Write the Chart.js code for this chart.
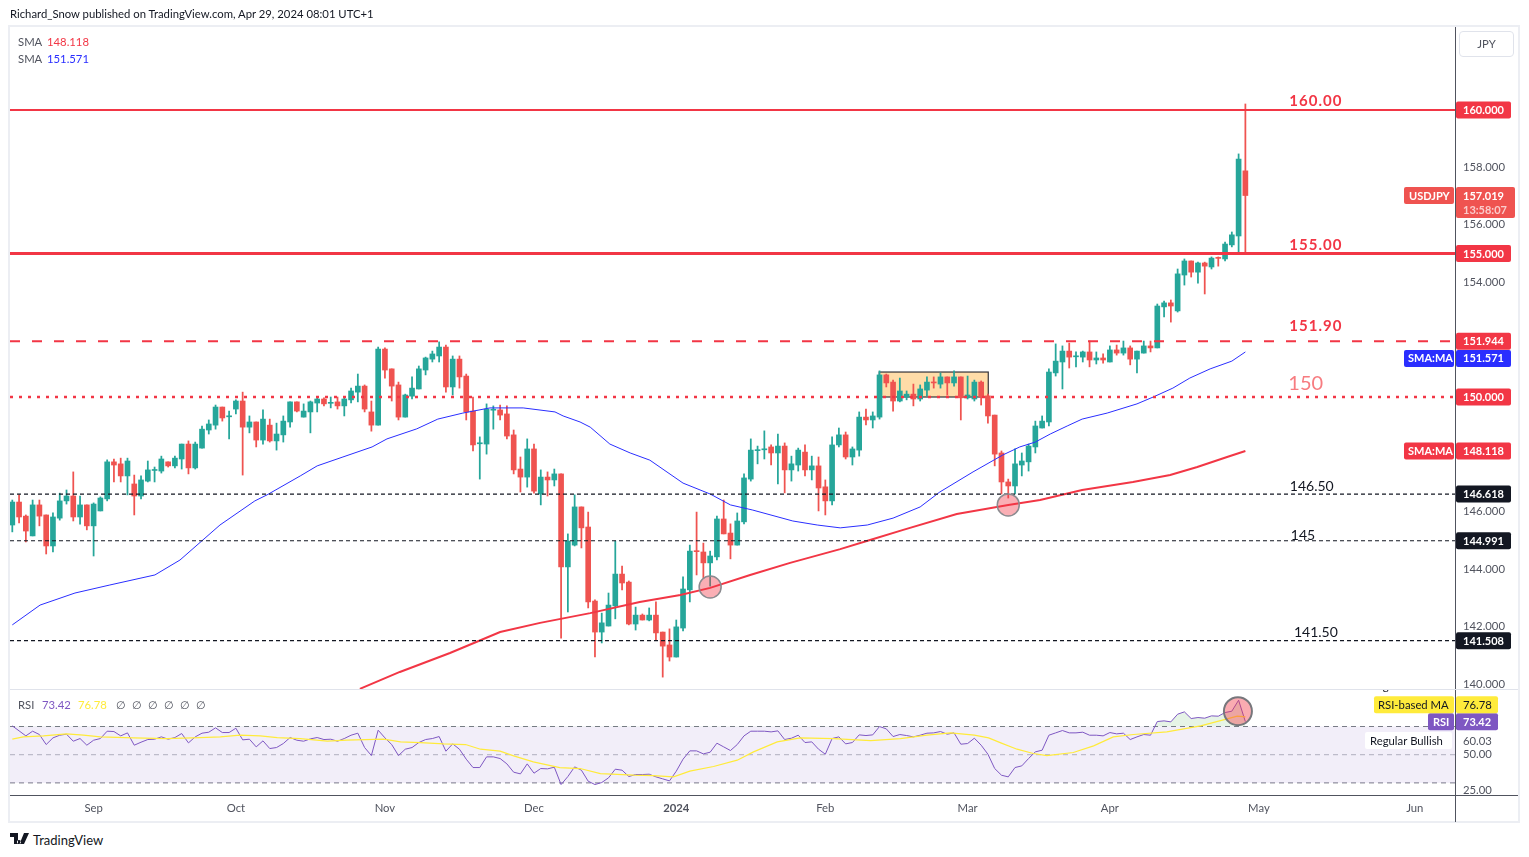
<!DOCTYPE html>
<html>
<head>
<meta charset="utf-8">
<title>USDJPY</title>
<script src="https://cdn.jsdelivr.net/npm/chart.js@4"></script>
<style>
    html, body { margin: 0; padding: 0; background: #fff; width: 1529px; height: 857px; overflow: hidden; }
    body { font-family: Lato, sans-serif; font-size: 11.3px; color: #131722; position: relative; }
    canvas { position: absolute; left: 0; }
    #priceCanvas { top: 0; }
    #rsiCanvas { top: 670px; }
    .abs { position: absolute; white-space: nowrap; }
    #frame { left: 8px; top: 25px; width: 1512px; height: 798px; border: 2px solid #eceef3; box-sizing: border-box; }
    #axisLine { left: 1455px; top: 27px; width: 1px; height: 795px; background: #50535e; }
    #paneLine { left: 10px; top: 689px; width: 1508px; height: 1px; background: #e0e3eb; }
    #timeLine { left: 10px; top: 795px; width: 1508px; height: 1px; background: #50535e; }
    #jpyBox { left: 1459px; top: 31px; width: 55px; height: 26px; border: 1px solid #e0e3eb; border-radius: 4px; box-sizing: border-box; text-align: center; line-height: 24px; color: #50535e; }
    .gray { color: #50535e; }
    #rsiLegend span { display: inline-block; }
    #rsiLegend .nil { width: 16px; }
</style>
</head>
<body>
<div class="abs" id="frame"></div>
<canvas id="priceCanvas" width="1529" height="700"></canvas>
<canvas id="rsiCanvas" width="1529" height="152"></canvas>
<div class="abs" id="axisLine"></div>
<div class="abs" id="paneLine"></div>
<div class="abs" id="timeLine"></div>
<div class="abs" style="left:10px;top:7px;">Richard_Snow published on TradingView.com, Apr 29, 2024 08:01 UTC+1</div>
<div class="abs" style="left:18px;top:35px;"><span class="gray" style="display:inline-block;width:29px;">SMA</span><span style="color:#f23645">148.118</span></div>
<div class="abs" style="left:18px;top:52px;"><span class="gray" style="display:inline-block;width:29px;">SMA</span><span style="color:#2a2eff">151.571</span></div>
<div class="abs" id="rsiLegend" style="left:18px;top:698px;"><span class="gray" style="width:24px">RSI</span><span style="color:#7e57c2;width:36px">73.42</span><span style="color:#ffeb3b;width:38px">76.78</span><span class="gray nil">∅</span><span class="gray nil">∅</span><span class="gray nil">∅</span><span class="gray nil">∅</span><span class="gray nil">∅</span><span class="gray nil">∅</span></div>
<div class="abs" id="jpyBox">JPY</div>
<svg class="abs" style="left:10px;top:833px;" width="20" height="12" viewBox="0 0 20 12">
    <path d="M0 0h8v11H4V4H0z M9 7a2 2 0 1 0 0.01 0z M14 0h5l-5 11H9.5z" fill="#131722"/>
</svg>
<div class="abs" style="left:33px;top:832px;font-size:13px;">TradingView</div>

<script>
// Candles, one per trading day from mid August 2023 to 29 Apr 2024
const opens = [145.54,146.34,145.85,145.16,146.24,145.89,144.81,145.78,146.38,146.55,145.82,146.24,145.51,146.03,146.45,147.74,147.67,147.25,146.97,146.55,147.07,147.44,147.42,147.74,147.60,147.84,148.36,147.53,148.22,148.85,149.02,149.65,149.31,149.58,149.86,148.95,149.13,148.50,149.02,148.47,148.68,149.13,149.83,149.30,149.48,149.79,149.93,149.78,149.83,149.69,149.90,150.17,150.38,149.48,149.02,151.67,150.98,150.42,149.30,150.03,150.28,150.94,151.32,151.43,151.74,150.35,151.32,150.73,149.51,148.37,148.36,149.54,149.55,149.41,148.68,147.49,147.21,148.19,146.62,147.21,147.11,147.32,144.08,144.84,146.17,145.47,142.89,141.81,142.02,142.72,143.83,143.55,142.09,142.40,142.23,142.40,141.81,141.36,140.94,141.95,143.28,144.64,144.60,144.22,144.43,145.75,145.26,144.84,145.65,147.14,148.13,148.16,148.26,148.05,148.29,147.46,147.63,148.08,147.46,147.60,146.87,146.38,148.33,148.68,147.91,148.15,149.30,149.20,149.30,150.77,150.52,149.86,150.00,150.10,149.93,150.24,150.52,150.45,150.70,150.49,150.70,149.97,149.93,150.52,150.04,149.37,148.05,147.04,146.90,147.63,147.74,148.26,148.92,149.13,150.84,151.22,151.60,151.40,151.39,151.57,151.29,151.36,151.22,151.64,151.53,151.71,151.32,151.53,151.78,151.71,153.14,153.28,153.00,154.25,154.74,154.35,154.67,154.53,154.86,154.81,155.30,155.61,157.88];
const highs = [146.41,146.59,145.89,146.41,146.41,145.89,145.96,146.65,146.76,147.39,146.55,146.24,146.31,146.52,147.81,147.84,147.87,147.87,147.28,147.25,147.77,147.56,147.94,147.74,147.94,148.36,148.47,148.43,148.99,149.20,149.72,149.65,149.51,149.90,150.17,149.34,149.13,149.55,149.23,149.09,149.34,149.83,149.83,149.76,149.86,149.97,149.97,150.00,150.00,150.00,150.31,150.80,150.42,149.86,151.74,151.71,150.98,150.52,150.10,150.70,151.08,151.39,151.60,151.92,151.81,151.43,151.43,150.80,150.00,148.61,149.76,149.69,149.72,149.69,148.85,147.91,148.54,148.36,147.46,147.39,147.49,147.32,145.23,146.59,146.17,145.99,142.93,142.47,143.17,144.98,144.11,143.59,142.68,142.44,142.65,142.86,141.81,141.92,142.23,143.73,144.84,145.99,144.91,144.63,145.85,146.41,145.58,145.96,147.32,148.54,148.29,148.82,148.33,148.71,148.40,147.94,148.22,148.33,147.94,147.91,147.11,148.61,148.92,148.78,148.26,149.48,149.58,149.48,150.91,150.80,150.59,150.66,150.21,150.45,150.42,150.70,150.70,150.84,150.70,150.91,150.70,150.73,150.59,150.56,150.10,149.37,148.12,147.14,148.19,148.05,148.36,149.16,149.34,150.98,151.85,151.78,151.88,151.57,151.60,151.95,151.57,151.50,151.78,151.81,151.95,151.78,151.60,151.95,151.95,153.24,153.34,153.38,154.46,154.81,154.74,154.70,154.70,154.88,154.88,155.40,155.75,158.47,160.21];
const lows = [145.30,145.61,144.95,145.16,145.51,144.53,144.60,145.71,146.27,145.68,145.57,145.37,144.46,146.03,146.38,147.04,147.04,146.59,145.89,146.45,147.04,147.04,147.35,147.56,147.53,147.49,147.32,147.49,148.22,148.71,148.88,149.16,148.54,149.41,147.28,148.75,148.26,148.36,148.43,148.15,148.43,148.95,149.48,149.30,148.75,149.48,149.69,149.62,149.58,149.34,149.79,149.83,149.48,148.81,149.02,150.66,149.86,149.20,149.30,149.93,150.28,150.77,151.22,151.22,150.17,150.07,150.31,149.20,148.12,147.14,148.01,148.88,149.20,148.54,147.32,146.69,146.86,146.65,146.24,146.55,146.90,141.60,142.51,144.81,144.74,142.65,140.94,141.43,142.02,142.27,143.28,142.06,141.88,142.23,142.20,141.53,140.24,140.80,140.94,141.85,142.86,143.80,143.69,143.41,144.32,145.23,144.36,144.84,145.58,147.07,147.67,147.84,147.63,146.97,146.66,147.07,147.42,147.25,147.11,146.03,145.89,146.24,148.26,147.84,147.63,147.94,149.03,148.92,149.23,150.35,149.51,149.83,149.90,149.69,149.86,150.04,150.31,150.31,150.07,150.38,149.20,149.93,149.86,149.72,149.09,147.60,146.62,146.48,146.62,147.25,147.42,148.05,148.92,148.99,150.73,150.28,151.01,151.05,151.22,151.05,151.15,151.18,151.22,151.46,151.46,151.12,150.84,151.53,151.57,151.71,152.79,152.61,152.96,153.90,154.18,153.97,153.59,154.46,154.56,154.74,155.23,154.98,155.04];
const closes = [146.34,145.82,145.33,146.24,145.85,144.81,145.82,146.38,146.55,145.82,146.24,145.51,146.27,146.48,147.74,147.63,147.25,147.77,146.55,147.11,147.46,147.47,147.84,147.60,147.87,148.36,147.53,148.36,148.88,149.06,149.65,149.27,149.34,149.86,148.95,149.13,148.50,149.23,148.47,148.71,149.16,149.83,149.51,149.51,149.83,149.93,149.76,149.80,149.69,149.93,150.21,150.38,149.58,149.02,151.67,150.94,150.38,149.30,150.07,150.31,150.98,151.36,151.50,151.74,150.35,151.32,150.70,149.48,148.33,148.39,149.58,149.56,149.37,148.64,147.46,147.21,148.19,146.72,147.21,147.11,147.32,144.08,144.98,146.17,145.44,142.86,141.81,142.13,142.75,143.83,143.52,142.09,142.40,142.23,142.40,141.78,141.32,140.94,141.99,143.31,144.63,144.61,144.22,144.46,145.75,145.23,144.84,145.68,147.18,148.15,148.15,148.19,148.05,148.29,147.46,147.67,148.15,147.46,147.60,146.83,146.38,148.33,148.68,147.91,148.19,149.30,149.20,149.34,150.77,150.49,149.86,150.21,150.10,149.93,150.28,150.52,150.49,150.70,150.49,150.70,149.97,150.07,150.52,150.00,149.34,148.01,147.04,146.90,147.67,147.77,148.29,148.99,149.16,150.87,151.25,151.60,151.39,151.42,151.57,151.29,151.36,151.29,151.64,151.53,151.71,151.32,151.60,151.78,151.71,153.17,153.28,153.17,154.29,154.74,154.35,154.67,154.56,154.84,154.83,155.33,155.65,158.29,157.02];

// SMA lines at the bends (bar index, price)
const sma50Bars = [0,4.1,9.25,14.4,21.05,24.75,30.65,35.8,37.6,42.5,45,48.8,53.1,55.3,59.7,62.8,66.5,70.5,75.4,80.1,81.3,83.8,85.3,88.2,91.2,94.1,99,103,106,109.3,115.2,118.8,122.2,126.2,130,134,136.9,141.8,146.2,148.7,151,153.2,155.7,157.9,161.6,166,168.4,171.3,173.8,176.8,180,182];
const sma50Vals = [142.06,142.75,143.17,143.45,143.80,144.32,145.54,146.38,146.59,147.25,147.60,147.91,148.26,148.54,148.89,149.23,149.44,149.62,149.62,149.48,149.34,149.13,148.95,148.36,148.05,147.80,147.00,146.62,146.24,146.06,145.68,145.54,145.44,145.54,145.78,146.17,146.69,147.39,147.98,148.26,148.43,148.71,148.99,149.23,149.44,149.76,150.00,150.31,150.66,150.98,151.25,151.57];
const sma200Bars = [51.3,57.2,64.6,72,77.9,85.3,92.6,98.6,103,108.9,114.8,122.2,126.6,131.5,139.4,147,151.7,157.9,165.4,170.9,174.9,179.3,182];
const sma200Vals = [139.83,140.42,141.08,141.81,142.13,142.47,142.86,143.10,143.35,143.80,144.22,144.70,145.02,145.37,145.92,146.24,146.41,146.76,147.04,147.28,147.56,147.91,148.12];

// RSI, one value per bar
const rsiVals = [70.45,66.90,63.36,66.67,64.30,57.21,61.94,63.83,64.54,59.57,61.46,56.74,60.28,61.46,66.67,66.43,63.36,65.48,56.74,58.86,60.76,60.99,62.65,60.99,62.17,65.01,58.39,62.65,65.25,65.96,69.03,65.72,65.72,68.79,60.52,60.99,55.55,59.81,54.37,55.08,57.92,62.17,60.28,59.57,61.23,62.17,60.76,60.99,59.57,61.46,63.83,65.25,55.08,49.41,67.38,61.94,57.21,49.41,53.90,55.08,58.63,60.76,61.46,62.88,52.48,57.68,53.90,46.81,40.90,40.90,48.46,48.46,47.28,43.50,37.59,36.41,43.50,36.88,40.19,39.95,41.13,28.84,34.51,41.37,39.01,31.20,28.84,30.26,33.57,39.72,39.01,34.51,35.93,35.93,36.17,34.28,32.86,31.44,38.30,46.81,52.72,52.72,50.59,51.77,58.16,55.55,52.95,57.21,63.36,66.67,66.67,66.67,66.19,66.90,60.76,61.70,63.83,58.63,59.10,53.90,50.35,61.46,62.65,57.68,58.63,64.07,63.59,64.07,69.98,68.32,62.88,64.30,63.59,62.65,63.83,65.25,65.48,66.43,64.54,65.48,57.45,57.92,61.70,56.74,50.35,40.19,35.46,34.28,40.90,42.08,47.28,52.01,53.19,63.83,65.49,67.14,65.49,65.49,65.96,63.83,63.83,63.36,65.72,64.78,65.25,60.76,62.65,64.31,63.83,73.53,74.00,73.29,78.73,80.38,75.65,76.36,75.89,77.54,77.31,79.91,80.85,88.66,73.42];
const rsiMaBars = [0,1.6,4.6,8,10.5,13,17.9,22.8,27.7,30.7,33.6,36.6,39.1,42.5,46.5,49.4,54.8,57.3,60.2,63.7,66.9,69.1,72,74,76.9,80.8,83.8,86.8,91.7,94.6,97.6,100,103.5,107,109.4,112.9,116.3,121.2,126.7,131.1,135,138.5,142,144.1,145.9,148.3,150.7,152.7,156.6,159.6,162.5,165.5,170.4,175.4,179.3,180.8,182];
const rsiMaVals = [60.99,62.65,63.36,64.77,63.83,62.65,61.94,61.46,62.17,62.65,63.83,63.36,62.17,61.46,59.57,60.28,60.99,59.10,58.63,57.68,57.21,53.90,52.48,49.17,44.92,40.90,40.19,36.64,35.46,35.22,34.28,38.30,41.61,46.10,52.01,59.10,61.94,61.46,60.05,61.46,63.83,65.48,63.83,61.94,58.39,53.90,50.83,49.41,51.54,56.27,62.65,64.31,66.20,70.45,75.42,77.31,76.78];

// Axes
const monthBars = [12,33,55,77,98,120,141,162,184,207];
const monthLabels = ['Sep','Oct','Nov','Dec','2024','Feb','Mar','Apr','May','Jun'];
const priceTicks = [140,142,144,146,148,152,154,156,158];
const rsiTicks = [25,50];

// Horizontal levels and their notes
const solidLevels = [160,155];
const dashedLevel = 151.944;
const dottedLevel = 150;
const blackLevels = [146.618,144.991,141.508];
const noteTexts = ['160.00','155.00','151.90','150','146.50','145','141.50'];
const notePrices = [160,155,151.944,150,146.618,144.991,141.508];

// Price tags on the right axis
const tagPrices = [160,155,151.944,151.571,150,148.118,146.618,144.991,141.508];
const tagTexts = ['160.000','155.000','151.944','151.571','150.000','148.118','146.618','144.991','141.508'];
const lastPrice = 157.019;
const rsiLast = 73.42;
const rsiMaLast = 76.78;

// Consolidation box and touch markers
const boxBars = [127.96,144.05];
const boxPrices = [150.87,150.0];
const touchBars = [103,147];
const touchPrices = [143.38,146.24];
const rsiTouchBar = [180.9];
const rsiTouchVal = [80.85];

const FONT = 'Lato, sans-serif';
const X_MIN = -0.34, X_MAX = 212.94;
const UP = '#26a69a', DOWN = '#ef5350', RED = '#f23645', BLUE = '#2a2eff';

Chart.defaults.font.family = FONT;
Chart.defaults.font.size = 11.3;
Chart.defaults.animation = false;

const candleColors = opens.map((o, i) => closes[i] >= o ? UP : DOWN);
const pairs = (xs, ys) => xs.map((x, i) => ({ x: x, y: ys[i] }));
const levelLine = (y, width, color, dash) => ({
    type: 'line',
    data: [{ x: X_MIN, y: y }, { x: X_MAX, y: y }],
    borderColor: color,
    borderWidth: width,
    borderDash: dash || [],
    pointRadius: 0,
    order: 2
});
// chart.js keeps room for the outer tick labels, the panes here must fill their box
const noTickRoom = axis => {
    axis.paddingLeft = 0;
    axis.paddingRight = 0;
    axis.paddingTop = 0;
    axis.paddingBottom = 0;
};

const xScale = {
    type: 'linear',
    min: X_MIN,
    max: X_MAX,
    offset: false,
    grid: { display: false, drawTicks: false },
    border: { display: false }
};

function tag(ctx, x, y, w, h, bg, text, color, textX) {
    ctx.fillStyle = bg;
    ctx.beginPath();
    ctx.roundRect(x, y - h / 2, w, h, 2);
    ctx.fill();
    ctx.fillStyle = color;
    ctx.textAlign = 'left';
    ctx.textBaseline = 'middle';
    ctx.fillText(text, textX, y + 0.5);
}

// Round touch markers. As point datasets their radius would widen the chart's min padding
function touchMarkers(chart, bars, vals, radius, fill, stroke, width) {
    const { ctx, scales: { x, y } } = chart;
    ctx.save();
    ctx.fillStyle = fill;
    ctx.strokeStyle = stroke;
    ctx.lineWidth = width;
    bars.forEach((b, i) => {
        ctx.beginPath();
        ctx.arc(x.getPixelForValue(b), y.getPixelForValue(vals[i]), radius, 0, Math.PI * 2);
        ctx.fill();
        ctx.stroke();
    });
    ctx.restore();
}

const boxPlugin = {
    id: 'boxPlugin',
    beforeDatasetsDraw(chart) {
        const { ctx, scales: { x, y } } = chart;
        const left = x.getPixelForValue(boxBars[0]), right = x.getPixelForValue(boxBars[1]);
        const top = y.getPixelForValue(boxPrices[0]), bottom = y.getPixelForValue(boxPrices[1]);
        ctx.save();
        ctx.fillStyle = '#ffdca8';
        ctx.strokeStyle = '#33343a';
        ctx.lineWidth = 1.2;
        ctx.fillRect(left, top, right - left, bottom - top);
        ctx.strokeRect(left, top, right - left, bottom - top);
        ctx.restore();
    }
};

const priceLabels = {
    id: 'priceLabels',
    afterDatasetsDraw(chart) {
        touchMarkers(chart, touchBars, touchPrices, 11, 'rgba(242,54,69,0.4)', '#8b8b90', 1.5);
    },
    afterDraw(chart) {
        const { ctx, scales: { x, y } } = chart;
        ctx.save();

        // notes above the levels
        const noteColors = [RED, RED, RED, '#f77c80', '#131722', '#131722', '#131722'];
        const noteFonts = ['bold 15px', 'bold 15px', 'bold 15px', '20px', '14px', '14px', '14px'];
        const noteLift = [9, 8, 15, 13, 8, 5, 8];
        const noteAt = [192.4, 192.4, 192.4, 190.9, 191.8, 190.5, 192.4];
        ctx.textAlign = 'center';
        ctx.textBaseline = 'middle';
        noteTexts.forEach((t, i) => {
            ctx.font = noteFonts[i] + ' ' + FONT;
            ctx.letterSpacing = i < 3 ? '1px' : '0px';
            ctx.fillStyle = noteColors[i];
            ctx.fillText(t, x.getPixelForValue(noteAt[i]), y.getPixelForValue(notePrices[i]) - noteLift[i]);
        });
        ctx.letterSpacing = '0px';

        // axis tags, the blue one is pushed down by the tag above it
        ctx.font = 'bold 11px ' + FONT;
        const tagColors = [RED, RED, RED, BLUE, RED, RED, '#131722', '#131722', '#131722'];
        const tagShift = [0, 0, 0, 6.5, 0, 0, 0, 0, 0];
        tagPrices.forEach((p, i) => {
            const py = y.getPixelForValue(p) + tagShift[i];
            tag(ctx, 1456, py, 55, 17, tagColors[i], tagTexts[i], '#fff', 1463);
        });
        tag(ctx, 1404, y.getPixelForValue(151.571) + 6.5, 50, 17, BLUE, 'SMA:MA', '#fff', 1408);
        tag(ctx, 1404, y.getPixelForValue(148.118), 50, 17, RED, 'SMA:MA', '#fff', 1408);

        // last price with the countdown under it
        const lastY = y.getPixelForValue(lastPrice);
        tag(ctx, 1404, lastY, 50, 17, DOWN, 'USDJPY', '#fff', 1409);
        ctx.fillStyle = DOWN;
        ctx.beginPath();
        ctx.roundRect(1456, lastY - 8.5, 59, 31, 2);
        ctx.fill();
        ctx.fillStyle = '#fff';
        ctx.fillText(lastPrice.toFixed(3), 1463, lastY + 0.5);
        ctx.fillStyle = 'rgba(255,255,255,0.7)';
        ctx.fillText('13:58:07', 1463, lastY + 14.5);
        ctx.restore();
    }
};

const rsiLabels = {
    id: 'rsiLabels',
    afterDatasetsDraw(chart) {
        touchMarkers(chart, rsiTouchBar, rsiTouchVal, 14, 'rgba(242,54,69,0.42)', '#77777c', 2);
    },
    afterDraw(chart) {
        const { ctx, scales: { y } } = chart;
        ctx.save();
        ctx.font = 'bold 11px ' + FONT;
        const rsiY = y.getPixelForValue(rsiLast);
        tag(ctx, 1428, rsiY, 26, 17, '#7e57c2', 'RSI', '#fff', 1433);
        tag(ctx, 1456, rsiY, 42, 17, '#7e57c2', rsiLast.toFixed(2), '#fff', 1463);
        ctx.font = '11.3px ' + FONT;
        tag(ctx, 1374, rsiY - 17, 80, 17, '#ffeb3b', 'RSI-based MA', '#131722', 1378);
        tag(ctx, 1456, rsiY - 17, 42, 17, '#ffeb3b', rsiMaLast.toFixed(2), '#131722', 1463);
        tag(ctx, 1365, y.getPixelForValue(60.03), 87, 17, '#fff', 'Regular Bullish', '#131722', 1370);
        ctx.fillStyle = '#50535e';
        ctx.fillText('60.03', 1463, y.getPixelForValue(60.03) + 0.5);

        // this one sits almost entirely outside the pane
        ctx.beginPath();
        ctx.rect(1360, chart.chartArea.top, 150, 6);
        ctx.clip();
        ctx.fillStyle = '#131722';
        ctx.fillText('Regular Bearish', 1370, chart.chartArea.top - 4);
        ctx.fillStyle = '#50535e';
        ctx.fillText('79.01', 1463, chart.chartArea.top - 4);
        ctx.restore();
    }
};

new Chart(document.getElementById('priceCanvas'), {
    type: 'bar',
    plugins: [boxPlugin, priceLabels],
    data: {
        datasets: [
            {
                data: opens.map((o, i) => ({ x: i, y: [lows[i], highs[i]] })),
                backgroundColor: candleColors,
                barThickness: 1.1,
                grouped: false,
                order: 5
            },
            {
                data: opens.map((o, i) => ({ x: i, y: [o, closes[i]] })),
                backgroundColor: candleColors,
                barThickness: 5,
                minBarLength: 1,
                grouped: false,
                order: 4
            },
            {
                type: 'line',
                data: pairs(sma50Bars, sma50Vals),
                borderColor: BLUE,
                borderWidth: 1,
                pointRadius: 0,
                order: 3
            },
            {
                type: 'line',
                data: pairs(sma200Bars, sma200Vals),
                borderColor: RED,
                borderWidth: 2,
                pointRadius: 0,
                order: 3
            },
            levelLine(solidLevels[0], 2, RED),
            levelLine(solidLevels[1], 3, RED),
            levelLine(dashedLevel, 2, RED, [10, 12]),
            levelLine(dottedLevel, 2.5, RED, [3, 6]),
            levelLine(blackLevels[0], 1.2, '#131722', [4, 3]),
            levelLine(blackLevels[1], 1.2, '#131722', [4, 3]),
            levelLine(blackLevels[2], 1.2, '#131722', [4, 3])
        ]
    },
    options: {
        responsive: false,
        layout: { padding: { top: 27, left: 10, right: 10, bottom: 10 } },
        plugins: { legend: { display: false }, tooltip: { enabled: false } },
        scales: {
            x: Object.assign({ display: false }, xScale),
            y: {
                position: 'right',
                min: 139.791,
                max: 162.892,
                afterFit: axis => { axis.width = 64; noTickRoom(axis); },
                afterBuildTicks: axis => { axis.ticks = priceTicks.map(v => ({ value: v })); },
                grid: { display: false },
                border: { display: false },
                ticks: {
                    color: '#50535e',
                    crossAlign: 'near',
                    padding: 0,
                    callback: v => v.toFixed(3)
                }
            }
        }
    }
});

new Chart(document.getElementById('rsiCanvas'), {
    type: 'line',
    plugins: [rsiLabels],
    data: {
        datasets: [
            {
                data: [{ x: X_MIN, y: 70 }, { x: X_MAX, y: 70 }],
                borderColor: '#787b86',
                borderWidth: 1,
                borderDash: [5, 4],
                pointRadius: 0,
                fill: { target: { value: 30 }, above: 'rgba(126,87,194,0.1)', below: 'rgba(126,87,194,0.1)' },
                order: 6
            },
            {
                data: [{ x: X_MIN, y: 30 }, { x: X_MAX, y: 30 }],
                borderColor: '#787b86',
                borderWidth: 1,
                borderDash: [5, 4],
                pointRadius: 0,
                order: 6
            },
            {
                data: [{ x: X_MIN, y: 50 }, { x: X_MAX, y: 50 }],
                borderColor: 'rgba(120,123,134,0.55)',
                borderWidth: 1,
                borderDash: [5, 4],
                pointRadius: 0,
                order: 6
            },
            {
                data: rsiVals.map((v, i) => ({ x: i, y: v })),
                borderColor: '#7e57c2',
                borderWidth: 1,
                pointRadius: 0,
                fill: { target: { value: 70 }, above: 'rgba(76,175,80,0.14)', below: 'rgba(0,0,0,0)' },
                order: 3
            },
            {
                data: pairs(rsiMaBars, rsiMaVals),
                borderColor: '#ffeb3b',
                borderWidth: 1.2,
                pointRadius: 0,
                order: 2
            }
        ]
    },
    options: {
        responsive: false,
        layout: { padding: { top: 20, left: 10, right: 10, bottom: 0 } },
        plugins: { legend: { display: false }, tooltip: { enabled: false } },
        scales: {
            x: Object.assign({}, xScale, {
                afterFit: axis => { axis.height = 27; noTickRoom(axis); },
                afterBuildTicks: axis => { axis.ticks = monthBars.map(v => ({ value: v })); },
                ticks: {
                    color: '#50535e',
                    autoSkip: false,
                    maxRotation: 0,
                    padding: 7,
                    font: ctx => ({ family: FONT, size: 11.3, weight: ctx.tick && ctx.tick.value === 98 ? 'bold' : 'normal' }),
                    callback: v => monthLabels[monthBars.indexOf(v)]
                }
            }),
            y: {
                position: 'right',
                min: 21.42,
                max: 95.89,
                afterFit: axis => { axis.width = 64; noTickRoom(axis); },
                afterBuildTicks: axis => { axis.ticks = rsiTicks.map(v => ({ value: v })); },
                grid: { display: false },
                border: { display: false },
                ticks: {
                    color: '#50535e',
                    crossAlign: 'near',
                    padding: 0,
                    callback: v => v.toFixed(2)
                }
            }
        }
    }
});
</script>
</body>
</html>
